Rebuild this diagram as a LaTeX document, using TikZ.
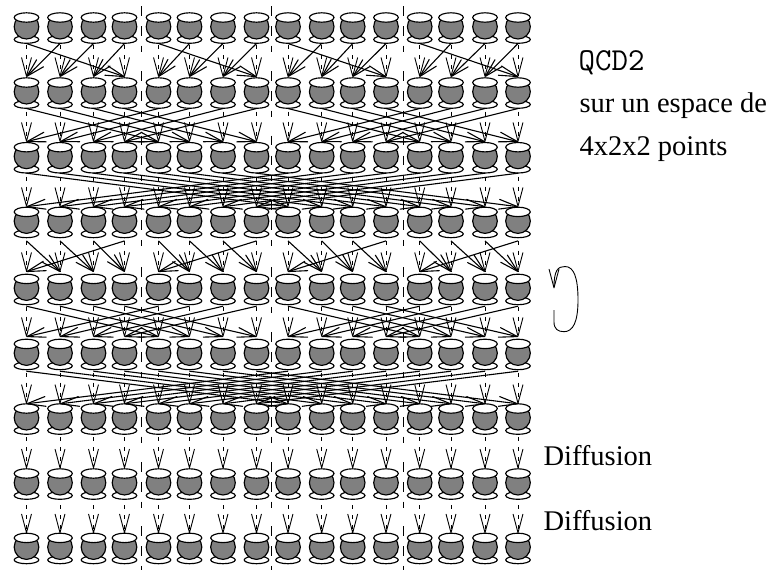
\documentclass[tikz,border=0pt]{standalone}
\usepackage{fontspec}
\setmainfont{Liberation Serif}
\usetikzlibrary{arrows.meta,shapes.geometric}
\definecolor{potgray}{RGB}{128,128,128}
\tikzset{
  pic line/.style={line width=1.15pt,draw=black},
  lid/.style={pic line,ellipse,fill=white,inner sep=0pt,minimum width=24.6pt,minimum height=9.4pt},
  foot/.style={pic line,ellipse,fill=white,inner sep=0pt,minimum width=24.6pt,minimum height=7.6pt},
  belly/.style={pic line,circle,fill=potgray,inner sep=0pt,minimum size=24.6pt},
  vee/.style={-{Straight Barb[length=18.5pt,width=9.8pt,round]}},
  flow/.style={vee,line width=1.1pt},
  diffuse/.style={vee,line width=0.9pt,dash pattern=on 4pt off 6pt},
  fence/.style={line width=1pt},
  label/.style={anchor=base west,inner sep=0pt,font=\fontsize{28.5}{33}\selectfont},
}
\begin{document}
\begin{tikzpicture}[x=1pt,y=-1pt]
\useasboundingbox (0,0) rectangle (771,570);
% pots and anchor coordinates per row: y / solid start / arrival / dashed start
\foreach \y/\so/\do/\ds [count=\r] in
  {17.5/26/5.2/27.5, 82.5/26/5.8/29.2, 147.2/26/5.5/29.5, 211.9/29/5.2/28.8,
   278.9/27.3/7.2/27.8, 343.9/27.3/7.2/28.8, 408.5/27/4.7/28.8, 473.5/27/5.2/31.5, 537.9/27/4.7/30.8}{
  \foreach \x [count=\c from 0] in
    {26.5,60,93.5,124.5,158.5,189.5,223,256.5,288,321.7,352.7,386,419.7,451,485,518}{
    \node[foot]  (f-\r-\c) at (\x,\y+22) {};
    \node[belly] (b-\r-\c) at (\x,\y+9.2) {};
    \node[lid]   (t-\r-\c) at (\x,\y) {};
    \coordinate (src-\r-\c) at (\x,\y+\so);
    \coordinate (dst-\r-\c) at (\x,\y-\do);
    \coordinate (dsh-\r-\c) at (\x,\y+\ds);
  }
  % group separators
  \foreach \x in {141.3,271.3,403}{
    \draw[fence] (\x,\y-11.5) -- (\x,\y-2);
    \draw[fence] (\x,\y+8.5) -- (\x,\y+18);
    \draw[fence] (\x,\y+28) -- (\x,\y+34);
  }
}
% dashed vertical connectors between all rows
\foreach \r [evaluate=\r as \n using int(\r+1)] in {1,...,8}{
  \foreach \c in {0,...,15}{
    \draw[diffuse] (dsh-\r-\c) -- (dst-\n-\c);
  }
}
% rotations inside groups of four
\foreach \c in {0,...,15}{
  \pgfmathtruncatemacro\g{floor(\c/4)*4}
  \pgfmathtruncatemacro\tl{\g+mod(\c+3,4)}
  \pgfmathtruncatemacro\tr{\g+mod(\c+1,4)}
  \draw[flow] (src-1-\c) -- (dst-2-\tl);
  \draw[flow] (src-4-\c) -- (dst-5-\tr);
  % exchange inside groups of eight
  \pgfmathtruncatemacro\h{floor(\c/8)*8}
  \pgfmathtruncatemacro\te{\h+mod(\c+4,8)}
  \draw[flow] (src-2-\c) -- (dst-3-\te);
  \draw[flow] (src-5-\c) -- (dst-6-\te);
  % exchange over the whole row
  \pgfmathtruncatemacro\ta{mod(\c+8,16)}
  \draw[flow] (src-3-\c) -- (dst-4-\ta);
  \draw[flow] (src-6-\c) -- (dst-7-\ta);
}
% loop
\coordinate (loopA) at (554,310);
\coordinate (loopB) at (554,288.3);
\draw[vee,line width=0.9pt] (loopA) -- (554,322)
  .. controls (554,329) and (558,331.7) .. (564,331.7)
  .. controls (573,331.7) and (578,322) .. (578,300)
  .. controls (578,278) and (574,266.5) .. (565,266.5)
  .. controls (558,266.5) and (554,270) .. (loopB);
% labels
\node[label,font=\fontsize{32}{33}\selectfont\ttfamily] (q) at (578.5,70.7) {QCD2};
\node[label] (s) at (579.3,112.7) {sur un espace de};
\node[label] (p) at (579.3,155) {4x2x2 points};
\node[label] (d1) at (543.3,465.7) {Diffusion};
\node[label] (d2) at (543.3,530.7) {Diffusion};
\end{tikzpicture}
\end{document}
